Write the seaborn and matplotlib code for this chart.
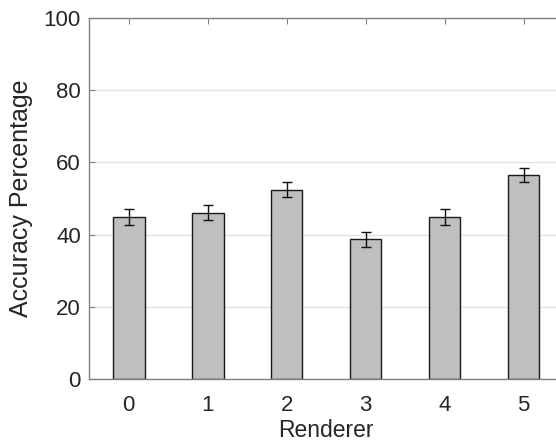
import matplotlib
matplotlib.use("Agg")
import matplotlib.pyplot as plt
import numpy as np
import pandas as pd
import seaborn as sns

RENDERERS = ["0", "1", "2", "3", "4", "5"]
ACCURACY = [44.8, 46.0, 52.4, 38.7, 44.9, 56.5]
ERR = [2.2, 2.1, 2.1, 2.1, 2.3, 2.0]
Y_TICKS = [0, 20, 40, 60, 80, 100]

sns.set_theme(style="white")
plt.rcParams["font.family"] = ["Liberation Sans", "DejaVu Sans"]

df = pd.DataFrame({"renderer": RENDERERS, "acc": ACCURACY, "err": ERR})

fig = plt.figure(figsize=(5.56, 4.44), dpi=100)
ax = fig.add_axes([0.1606, 0.147, 0.852, 0.812])

sns.barplot(data=df, x="renderer", y="acc", ax=ax, color="#bfbfbf",
            width=0.4, edgecolor="#1a1a1a", linewidth=1.0, errorbar=None,
            saturation=1, zorder=2)
ax.errorbar(np.arange(len(df)), df["acc"], yerr=df["err"], fmt="none",
            ecolor="#111111", elinewidth=1.0, capsize=3.6, capthick=1.0,
            zorder=3)

ax.set_xlim(-0.5, 5.5)
ax.set_ylim(0, 100)
ax.set_yticks(Y_TICKS)
ax.yaxis.grid(True, color="#e3e3e3", lw=1.0, zorder=0)
ax.set_axisbelow(True)

for side in ("left", "bottom", "top"):
    ax.spines[side].set_color("#808080")
    ax.spines[side].set_linewidth(1.0)
ax.spines["right"].set_visible(False)

ax.tick_params(axis="both", direction="in", length=4, width=0.8,
               color="#808080", labelsize=16, labelcolor="#262626",
               top=True, left=True, bottom=True, pad=6)
ax.tick_params(axis="x", pad=12)

ax.set_xlabel("Renderer", fontsize=16.5, color="#262626", labelpad=2)
ax.set_ylabel("Accuracy Percentage", fontsize=18, color="#262626", labelpad=8)

fig.savefig("out.png", dpi=100)
